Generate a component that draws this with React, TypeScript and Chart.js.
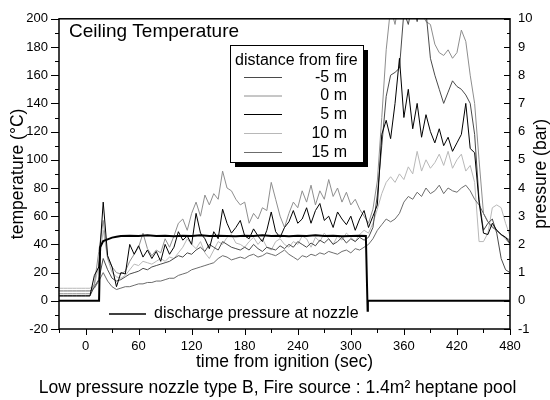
import React, { useEffect, useRef } from 'react';
import { Chart, registerables } from 'chart.js';

Chart.register(...registerables);

// ---------- data ----------
const TIME = [
  -30, -25, -20, -15, -10, -5, 0, 5, 10, 15,
  20, 25, 30, 35, 40, 45, 50, 55, 60, 65,
  70, 75, 80, 85, 90, 95, 100, 105, 110, 115,
  120, 125, 130, 135, 140, 145, 150, 155, 160, 165,
  170, 175, 180, 185, 190, 195, 200, 205, 210, 215,
  220, 225, 230, 235, 240, 245, 250, 255, 260, 265,
  270, 275, 280, 285, 290, 295, 300, 305, 310, 315,
  320, 325, 330, 335, 340, 345, 350, 355, 360, 365,
  370, 375, 380, 385, 390, 395, 400, 405, 410, 415,
  420, 425, 430, 435, 440, 445, 450, 455, 460, 465,
  470, 475, 480,
];

// temperature (°C) at -5 m
const T_M5 = [
  3.5, 3.5, 3.5, 3.5, 3.5, 3.5, 3.5, 3.5, 10, 15,
  30, 22, 16, 14, 15, 17, 19, 20, 21, 23,
  22, 24, 25, 26, 27, 28, 30, 32, 31, 34,
  33, 36, 38, 35, 40, 38, 36, 42, 40, 38,
  37, 36, 38, 36, 40, 37, 35, 38, 37, 36,
  39, 37, 40, 38, 42, 40, 38, 41, 39, 43,
  41, 44, 40, 42, 45, 41, 44, 42, 45, 43,
  45, 52, 75, 110, 145, 160, 162, 165, 205, 196,
  212, 198, 215, 205, 172, 160, 150, 140, 148, 156,
  152, 150, 146, 140, 118, 72, 50, 55, 58, 48,
  30, 22, 20,
];

// temperature (°C) at 0 m
const T_0 = [
  5, 5, 5, 5, 5, 5, 5, 5, 12, 35,
  57, 30, 24, 20, 19, 21, 28, 33, 38, 48,
  37, 32, 36, 34, 44, 38, 46, 55, 58, 50,
  62, 70, 60, 75, 68, 76, 72, 92, 80, 78,
  72, 68, 70, 55, 62, 58, 66, 64, 84, 72,
  60, 52, 62, 70, 66, 78, 70, 82, 68, 78,
  72, 86, 74, 80, 70, 77, 68, 72, 65, 60,
  55, 65, 85, 130, 178, 208, 196, 215, 220, 210,
  225, 214, 205, 198, 196, 182, 176, 174, 178, 172,
  176, 192, 184, 160, 140, 100, 62, 56, 53, 50,
  47, 44, 40,
];

// temperature (°C) at 5 m
const T_5 = [
  3.5, 3.5, 3.5, 3.5, 3.5, 3.5, 3.5, 3.5, 18, 24,
  70, 32, 24, 10, 20, 19, 40, 33, 39, 31,
  36, 30, 35, 28, 40, 33, 38, 49, 43, 46,
  40, 62, 48, 44, 37, 49, 44, 65, 55, 48,
  52, 57, 46, 44, 51, 46, 42, 50, 63, 49,
  45, 52, 56, 64, 55, 58, 66, 55, 64, 69,
  57, 60, 52, 63, 58, 54, 60, 50, 58, 64,
  52, 60, 68, 118, 128, 115, 140, 172, 130, 150,
  122, 140, 116, 132, 120, 112, 122, 110, 116, 106,
  112, 118, 140, 108, 105, 70, 48, 47, 55, 50,
  47, 45, 41,
];

// temperature (°C) at 10 m
const T_10 = [
  8.9, 8.9, 8.9, 8.9, 8.9, 8.9, 8.9, 8.9, 11, 25,
  50, 30, 20, 17, 16, 18, 22, 26, 25, 28,
  27, 26, 28, 30, 28, 31, 30, 34, 38, 44,
  40, 37, 42, 34, 30, 36, 42, 40, 45, 47,
  41, 40, 38, 42, 45, 40, 44, 38, 36, 42,
  44, 40, 38, 42, 40, 46, 44, 38, 45, 42,
  48, 44, 40, 46, 43, 48, 45, 42, 47, 50,
  48, 55, 65, 76, 84, 88, 84, 90, 86, 95,
  90, 106, 92, 100, 94, 98, 104, 96, 106, 94,
  100, 104, 92, 96, 84, 42, 42, 48, 66, 68,
  66, 55, 46,
];

// temperature (°C) at 15 m
const T_15 = [
  7, 7, 7, 7, 7, 7, 7, 7, 9, 14,
  20, 14, 10, 8, 9, 10, 10, 11, 12, 12,
  13, 13, 14, 14, 15, 16, 16, 18, 19, 20,
  22, 23, 24, 25, 26, 27, 30, 32, 31, 29,
  30, 31, 30, 32, 33, 31, 32, 34, 33, 32,
  34, 36, 33, 31, 29, 32, 31, 33, 32, 34,
  33, 35, 34, 33, 35, 36, 34, 37, 36, 38,
  40, 44, 50, 54, 58, 56, 58, 62, 70, 74,
  72, 77, 74, 80, 76, 78, 82, 76, 80, 78,
  77, 80, 82, 78, 72, 68, 62, 56, 52, 50,
  47, 45, 43,
];

// discharge pressure at nozzle (bar)
const P_TIME = [
  -30, 15.3, 16.5, 20, 25, 30, 35, 40, 50, 60,
  70, 80, 90, 100, 110, 120, 130, 140, 150, 160,
  170, 180, 190, 200, 210, 220, 230, 240, 250, 260,
  270, 280, 290, 300, 310, 317, 319, 319.3, 480,
];
const P_BAR = [
  0, 0, 1.9, 2.12, 2.18, 2.24, 2.27, 2.3, 2.31, 2.3,
  2.32, 2.3, 2.31, 2.29, 2.31, 2.3, 2.32, 2.3, 2.31, 2.3,
  2.29, 2.31, 2.3, 2.32, 2.3, 2.31, 2.29, 2.31, 2.3, 2.32,
  2.3, 2.31, 2.29, 2.3, 2.31, 2.3, -0.35, 0, 0,
];

const SERIES_LABELS = ['-5 m', '0 m', '5 m', '10 m', '15 m'];
const SERIES_DATA = [T_M5, T_0, T_5, T_10, T_15];
const X_TICKS = [0, 60, 120, 180, 240, 300, 360, 420, 480];
const Y_TICKS = [-20, 0, 20, 40, 60, 80, 100, 120, 140, 160, 180, 200];
const Y2_TICKS = [-1, 0, 1, 2, 3, 4, 5, 6, 7, 8, 9, 10];

// ---------- styles ----------
const SERIES_COLORS = ['#4a4a4a', '#8e8e8e', '#000000', '#b8b8b8', '#6c6c6c'];
const FONT = '"Liberation Sans", Arial, Helvetica, sans-serif';

const decorPlugin = {
  id: 'decor',
  afterDraw(chart: any) {
    const { ctx, chartArea: ca, scales } = chart;
    const xs = scales.x, ys = scales.y, ys2 = scales.y2;
    ctx.save();
    ctx.strokeStyle = '#000';
    ctx.fillStyle = '#000';

    // tick marks
    ctx.lineWidth = 1;
    ctx.beginPath();
    for (let v = -30; v <= 480; v += 30) {
      const px = Math.round(xs.getPixelForValue(v)) + 0.5;
      const len = v % 60 === 0 ? 6 : 4;
      ctx.moveTo(px, ca.bottom);
      ctx.lineTo(px, ca.bottom + len);
    }
    for (let v = -20; v <= 200; v += 10) {
      const py = Math.round(ys.getPixelForValue(v)) + 0.5;
      const len = v % 20 === 0 ? 8 : 4;
      ctx.moveTo(ca.left - len, py);
      ctx.lineTo(ca.left, py);
    }
    for (let v = -1; v <= 10; v += 0.5) {
      const py = Math.round(ys2.getPixelForValue(v)) + 0.5;
      const len = Number.isInteger(v) ? 6 : 3;
      ctx.moveTo(ca.right - len, py);
      ctx.lineTo(ca.right, py);
    }
    ctx.stroke();

    // frame
    ctx.lineWidth = 1.5;
    ctx.strokeRect(ca.left, ca.top, ca.right - ca.left, ca.bottom - ca.top);

    // titles
    ctx.textBaseline = 'middle';
    ctx.textAlign = 'center';
    ctx.font = `17.5px ${FONT}`;
    const cy = (ca.top + ca.bottom) / 2;
    ctx.save();
    ctx.translate(18, cy);
    ctx.rotate(-Math.PI / 2);
    ctx.fillText('temperature (°C)', 0, 0);
    ctx.restore();
    ctx.save();
    ctx.translate(541, cy);
    ctx.rotate(-Math.PI / 2);
    ctx.fillText('pressure (bar)', 0, 0);
    ctx.restore();
    ctx.fillText('time from ignition (sec)', (ca.left + ca.right) / 2, 362);
    ctx.fillText('Low pressure nozzle type B, Fire source : 1.4m² heptane pool', 277.5, 388);

    // inner title
    ctx.textAlign = 'left';
    ctx.textBaseline = 'alphabetic';
    ctx.font = `19px ${FONT}`;
    ctx.fillText('Ceiling Temperature', 69, 37);

    // legend box with shadow
    const bx = 230, by = 45, bw = 133, bh = 117;
    ctx.fillStyle = '#000';
    ctx.fillRect(bx + 5, by + 5, bw, bh);
    ctx.fillStyle = '#fff';
    ctx.fillRect(bx, by, bw, bh);
    ctx.lineWidth = 1;
    ctx.strokeStyle = '#000';
    ctx.strokeRect(bx + 0.5, by + 0.5, bw, bh);
    ctx.fillStyle = '#000';
    ctx.font = `16px ${FONT}`;
    ctx.fillText('distance from fire', 235, 64.5);
    const rowY = [77.5, 96, 114.5, 133.5, 152.5];
    SERIES_LABELS.forEach((lab, i) => {
      const ry = rowY[i];
      ctx.strokeStyle = SERIES_COLORS[i];
      ctx.lineWidth = 1;
      ctx.beginPath();
      ctx.moveTo(244, ry);
      ctx.lineTo(282, ry);
      ctx.stroke();
      ctx.fillStyle = '#000';
      ctx.textAlign = 'right';
      ctx.textBaseline = 'middle';
      ctx.fillText(lab, 347, ry);
    });

    // pressure legend
    ctx.strokeStyle = '#000';
    ctx.lineWidth = 1.5;
    ctx.beginPath();
    ctx.moveTo(109, 314);
    ctx.lineTo(146, 314);
    ctx.stroke();
    ctx.textAlign = 'left';
    ctx.textBaseline = 'middle';
    ctx.fillText('discharge pressure at nozzle', 154, 314);

    ctx.restore();
  },
};

export default function App() {
  const ref = useRef<HTMLCanvasElement | null>(null);

  useEffect(() => {
    if (!ref.current) return;
    Chart.defaults.font.family = FONT;
    Chart.defaults.color = '#000';

    const datasets: any[] = [
      {
        label: 'discharge pressure at nozzle',
        data: P_TIME.map((t, i) => ({ x: t, y: P_BAR[i] })),
        yAxisID: 'y2',
        borderColor: '#000',
        borderWidth: 2,
        pointRadius: 0,
        tension: 0,
      },
    ];
    const order = [2, 0, 4, 1, 3];
    order.forEach((k) => {
      datasets.push({
        label: SERIES_LABELS[k],
        data: TIME.map((t, i) => ({ x: t, y: SERIES_DATA[k][i] })),
        yAxisID: 'y',
        borderColor: SERIES_COLORS[k],
        borderWidth: 1,
        pointRadius: 0,
        tension: 0,
      });
    });

    const chart = new Chart(ref.current, {
      type: 'line',
      data: { datasets },
      options: {
        responsive: false,
        animation: false,
        devicePixelRatio: 1,
        layout: { padding: { top: 14, left: 0, right: 0, bottom: 0 } },
        plugins: { legend: { display: false }, tooltip: { enabled: false }, title: { display: false } },
        scales: {
          x: {
            type: 'linear',
            min: -30,
            max: 480,
            afterBuildTicks: (s: any) => { s.ticks = X_TICKS.map((v) => ({ value: v })); },
            afterFit: (s: any) => { s.height = 71; },
            grid: { display: false, drawTicks: false },
            border: { display: false },
            ticks: { font: { size: 13 }, color: '#000', padding: 10, maxRotation: 0, autoSkip: false },
          },
          y: {
            type: 'linear',
            position: 'left',
            min: -20,
            max: 200,
            afterBuildTicks: (s: any) => { s.ticks = Y_TICKS.map((v) => ({ value: v })); },
            afterFit: (s: any) => { s.width = 59; },
            grid: { display: false, drawTicks: false },
            border: { display: false },
            ticks: { font: { size: 13 }, color: '#000', padding: 11, autoSkip: false },
          },
          y2: {
            type: 'linear',
            position: 'right',
            min: -1,
            max: 10,
            afterBuildTicks: (s: any) => { s.ticks = Y2_TICKS.map((v) => ({ value: v })); },
            afterFit: (s: any) => { s.width = 40; },
            grid: { display: false, drawTicks: false },
            border: { display: false },
            ticks: { font: { size: 13 }, color: '#000', padding: 8, autoSkip: false },
          },
        },
      },
      plugins: [decorPlugin],
    });
    return () => chart.destroy();
  }, []);

  return (
    <div style={{ position: 'fixed', left: 0, top: 0, width: 550, height: 400, background: '#fff' }}>
      <canvas ref={ref} width={550} height={400} style={{ display: 'block' }} />
    </div>
  );
}
